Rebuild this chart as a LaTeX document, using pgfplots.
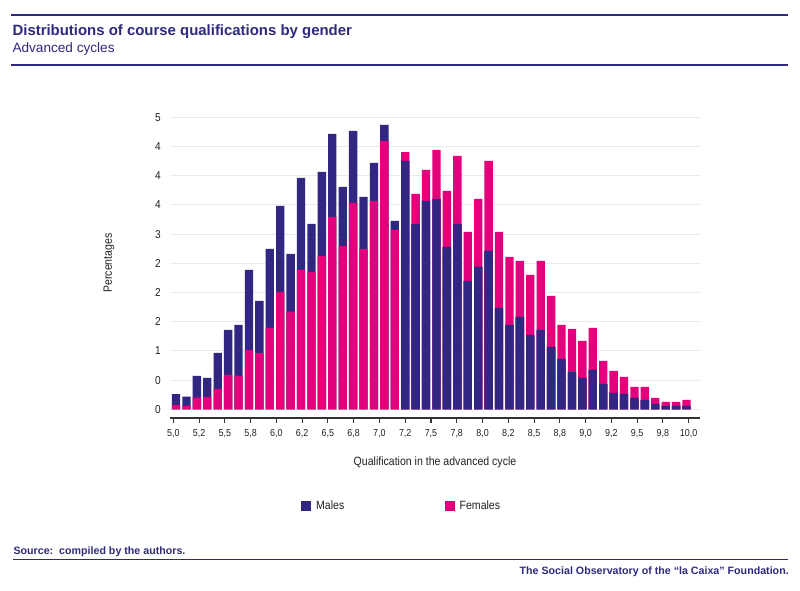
\documentclass[border=0pt]{standalone}
\usepackage{fontspec}
\setmainfont{Liberation Sans}
\newfontfamily\cond{Liberation Sans}[FakeStretch=0.88]
\usepackage{pgfplots}
\pgfplotsset{compat=1.18}
\usepackage{pgfplotstable}
\definecolor{navy}{HTML}{2E2A7F}
\definecolor{mblue}{HTML}{312783}
\definecolor{fpink}{HTML}{E4007C}
\definecolor{axisgray}{HTML}{333333}
\definecolor{gridc}{HTML}{E9E9EF}
\definecolor{tickc}{HTML}{222222}

\pgfplotstableread{
x m f
0 0.260 0.074
1 0.217 0.057
2 0.571 0.200
3 0.537 0.211
4 0.965 0.348
5 1.358 0.588
6 1.444 0.571
7 2.386 1.016
8 1.855 0.965
9 2.745 1.393
10 3.482 2.009
11 2.660 1.672
12 3.961 2.386
13 3.174 2.352
14 4.064 2.626
15 4.715 3.293
16 3.807 2.797
17 4.766 3.533
18 3.636 2.745
19 4.218 3.567
20 4.869 4.595
21 3.225 3.071
22 4.252 4.406
23 3.174 3.687
24 3.567 4.098
25 3.602 4.441
26 2.780 3.739
27 3.174 4.338
28 2.197 3.037
29 2.437 3.602
30 2.711 4.252
31 1.735 3.037
32 1.444 2.608
33 1.581 2.540
34 1.273 2.300
35 1.358 2.540
36 1.067 1.941
37 0.862 1.444
38 0.639 1.376
39 0.537 1.170
40 0.674 1.393
41 0.434 0.828
42 0.280 0.656
43 0.263 0.554
44 0.194 0.382
45 0.160 0.382
46 0.091 0.194
47 0.057 0.126
48 0.057 0.126
49 0.057 0.160
}\data

\pgfplotsset{sqleg/.style={legend image code/.code={\fill[##1] (0pt,-3.75pt) rectangle (7.5pt,3.75pt);}}}

\begin{document}
\begin{tikzpicture}
\path[fill=white] (0,0) rectangle (600pt,443.25pt);
\begin{scope}[x=0.75pt,y=-0.75pt,shift={(0pt,443.25pt)}]
\draw[navy, line width=1.3pt] (11,15) -- (788,15);
\draw[navy, line width=1.3pt] (11,65) -- (788,65);
\node[anchor=base west, inner sep=0pt, text=navy, font=\bfseries\fontsize{11.2}{13}\selectfont] at (12.3,36) {Distributions of course qualifications by gender};
\node[anchor=base west, inner sep=0pt, text=navy, font=\fontsize{10.2}{12}\selectfont] at (12.3,53) {Advanced cycles};
\node[anchor=base west, inner sep=0pt, text=navy, font=\bfseries\fontsize{8}{10}\selectfont] at (13.3,554.3) {Source:\ \ compiled by the authors.};
\draw[navy, line width=1.1pt] (13,559.7) -- (788,559.7);
\node[anchor=base east, inner sep=0pt, text=navy, font=\bfseries\fontsize{8}{10}\selectfont] at (789,574.5) {The Social Observatory of the “la Caixa” Foundation.};
\end{scope}
\begin{axis}[
  at={(127.5pt,129.75pt)}, anchor=south west,
  scale only axis, width=397.5pt, height=225.5pt,
  xmin=-0.576, xmax=50.29, ymin=-0.149, ymax=5,
  axis x line*=bottom, axis y line*=left,
  x axis line style={draw=axisgray, line width=1.2pt, -},
  y axis line style={draw=none},
  ytick={0,0.5,1,1.5,2,2.5,3,3.5,4,4.5,5},
  yticklabels={0,0,1,2,2,2,3,4,4,4,5},
  ymajorgrids, grid style={draw=gridc, line width=0.8pt},
  ytick style={draw=none},
  xtick={-0.257,2.216,4.689,7.161,9.634,12.107,14.580,17.053,19.525,21.998,24.471,26.944,29.417,31.890,34.362,36.835,39.308,41.781,44.254,46.726,49.199},
  xticklabels={{5,0},{5,2},{5,5},{5,8},{6,0},{6,2},{6,5},{6,8},{7,0},{7,2},{7,5},{7,8},{8,0},{8,2},{8,5},{8,8},{9,0},{9,2},{9,5},{9,8},{10,0}},
  tick align=outside, major tick length=3.75pt,
  xtick style={draw=axisgray, line width=0.8pt},
  /pgf/number format/assume math mode=true,
  xticklabel style={font=\cond\fontsize{7.6}{9}\selectfont, text=tickc, yshift=-1pt},
  yticklabel style={font=\cond\fontsize{8.6}{10}\selectfont, text=tickc, inner sep=0pt, anchor=east, xshift=-3pt},
  xlabel={Qualification in the advanced cycle},
  ylabel={Percentages},
  label style={font=\cond\fontsize{9}{11}\selectfont, text=tickc},
  xlabel style={at={(axis description cs:0.5,-0.1463)}, anchor=center},
  ylabel style={at={(axis description cs:-0.115,0.5155)}, anchor=center},
  legend style={at={(0.438,-0.293)}, anchor=center, draw=none, fill=none,
    legend columns=2, font=\cond\fontsize{9}{11}\selectfont, text=tickc,
    /tikz/every odd column/.append style={column sep=1.5pt},
    /tikz/every even column/.append style={column sep=73.5pt}},
  legend cell align=left,
]
\addplot[ybar, bar width=0.8, bar shift=0pt, fill=mblue, draw=none, sqleg] table[x=x,y=m]{\data};
\addlegendentry{Males}
\addplot[ybar, bar width=0.8, bar shift=0pt, fill=fpink, draw=none, sqleg] table[x=x,y=f]{\data};
\addlegendentry{Females}
\addplot[ybar, bar width=0.8, bar shift=0pt, fill=mblue, draw=none, forget plot, restrict x to domain=21.5:50] table[x=x,y=m]{\data};
\end{axis}
\end{tikzpicture}
\end{document}
